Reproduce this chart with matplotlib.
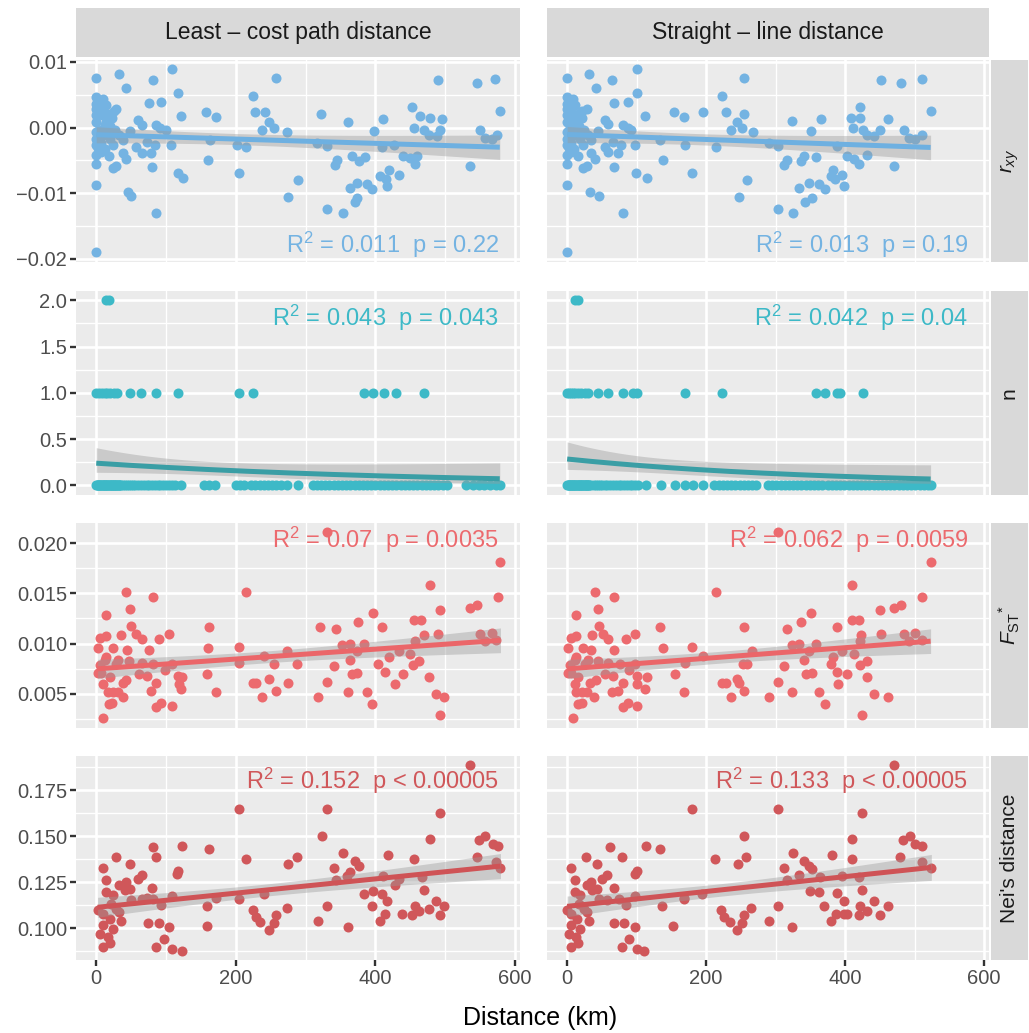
import numpy as np
import matplotlib
matplotlib.use('Agg')
import matplotlib.pyplot as plt

plt.rcParams['font.family'] = ['Liberation Sans', 'DejaVu Sans']
plt.rcParams['mathtext.fontset'] = 'custom'
plt.rcParams['mathtext.rm'] = 'Liberation Sans'
plt.rcParams['mathtext.it'] = 'Liberation Sans:italic'
plt.rcParams['mathtext.bf'] = 'Liberation Sans:bold'

# ---- data: (distance km, value) ----
rxy_lc = np.array([
    (0, .0076), (32, .0081), (43, .0060), (81, .0073), (108, .0090), (117, .0052), (258, .0076), (490, .0072),
    (546, .0068), (571, .0074), (578, .0025), (0, .0046), (14, .0035), (29, .0028), (75, .0037), (93, .0039),
    (122, .0018), (157, .0023), (172, .0016), (225, .0048), (228, .0023), (242, .0023), (247, .0008), (254, -.0001),
    (237, -.0004), (273, -.0007), (322, .0021), (361, .0009), (411, .0013), (398, -.0006), (453, .0031), (464, .0017),
    (478, .0014), (495, .0013), (455, .0000), (469, -.0003), (476, -.0011), (488, -.0013), (493, -.0003), (550, -.0003),
    (557, -.0016), (574, -.0012), (567, -.0017), (316, -.0024), (330, -.0028), (409, -.0030), (427, -.0027), (439, -.0043),
    (450, -.0046), (457, -.0055), (460, -.0043), (536, -.0058), (345, -.0050), (342, -.0057), (366, -.0043), (376, -.0051),
    (385, -.0045), (419, -.0064), (406, -.0074), (415, -.0078), (433, -.0072), (364, -.0092), (373, -.0084), (388, -.0086),
    (395, -.0093), (416, -.0089), (373, -.0107), (370, -.0114), (330, -.0124), (353, -.0130), (289, -.0080), (274, -.0106),
    (205, -.0069), (202, -.0027), (215, -.0029), (160, -.0049), (163, -.0019), (117, -.0069), (124, -.0077), (107, -.0026),
    (100, -.0004), (86, .0004), (91, .0000), (80, -.0060), (86, -.0131), (45, -.0098), (50, -.0104), (0, -.0088),
    (0, -.0190), (0, -.0056), (24, -.0062), (29, -.0058), (18, -.0044), (38, -.0039), (43, -.0048), (65, -.0039),
    (79, -.0039), (57, -.0029), (84, -.0026), (72, -.0022), (60, .0011), (65, .0004), (49, -.0006), (38, -.0019),
    (24, -.0026), (0, -.0042), (7, -.0037), (0, -.0027), (0, -.0017), (0, -.0007), (0, .0009), (0, .0019),
    (0, .0029), (0, .0036), (10, .0024), (22, .0014), (14, .0009), (10, -.0012), (19, -.0017), (33, -.0012),
    (7, -.0024), (3, .0041), (5, .0031), (8, .0019), (12, .0004), (4, -.0004), (6, -.0015), (15, -.0009),
    (20, .0002), (27, -.0004), (2, -.0031), (12, -.0033), (17, .0021), (25, .0026), (9, .0043)])

rxy_sl = np.array([
    (0, .0076), (32, .0081), (41, .0060), (64, .0073), (101, .0090), (101, .0052), (255, .0076), (451, .0072),
    (480, .0068), (511, .0074), (523, .0025), (0, .0046), (11, .0035), (28, .0028), (68, .0037), (87, .0039),
    (112, .0018), (154, .0023), (168, .0016), (223, .0048), (228, .0023), (195, .0023), (255, .0021), (244, .0008),
    (251, -.0001), (236, -.0004), (267, -.0007), (323, .0010), (351, -.0005), (365, .0013), (408, .0014), (422, .0031),
    (422, .0014), (462, .0013), (411, .0000), (425, -.0003), (432, -.0011), (442, -.0013), (450, -.0003), (485, -.0003),
    (492, -.0016), (510, -.0012), (501, -.0017), (291, -.0024), (304, -.0028), (389, -.0028), (403, -.0043), (432, -.0042),
    (413, -.0048), (420, -.0055), (470, -.0058), (317, -.0050), (312, -.0057), (341, -.0043), (336, -.0051), (358, -.0045),
    (382, -.0064), (379, -.0074), (386, -.0078), (395, -.0072), (334, -.0092), (348, -.0084), (363, -.0086), (371, -.0093),
    (399, -.0089), (353, -.0107), (342, -.0114), (303, -.0124), (325, -.0130), (259, -.0080), (247, -.0106), (180, -.0069),
    (169, -.0026), (214, -.0029), (138, -.0049), (134, -.0019), (99, -.0069), (115, -.0077), (98, -.0026), (92, -.0004),
    (80, .0004), (87, .0000), (68, -.0060), (80, -.0131), (33, -.0098), (46, -.0104), (0, -.0088), (0, -.0190),
    (0, -.0056), (23, -.0062), (28, -.0058), (16, -.0044), (35, -.0039), (40, -.0048), (59, -.0038), (73, -.0039),
    (54, -.0029), (78, -.0026), (66, -.0022), (54, .0011), (59, .0005), (44, -.0006), (35, -.0019), (23, -.0026),
    (0, -.0042), (6, -.0037), (0, -.0027), (0, -.0017), (0, -.0007), (0, .0009), (0, .0019), (0, .0029),
    (0, .0036), (6, .0024), (21, .0014), (11, .0009), (9, -.0012), (18, -.0017), (30, -.0012), (5, -.0024),
    (3, .0041), (4, .0031), (7, .0019), (10, .0004), (3, -.0004), (5, -.0015), (13, -.0009), (17, .0002),
    (24, -.0004), (2, -.0031), (10, -.0033), (15, .0021), (22, .0026), (8, .0043)])

n_lc_two = [14, 18]
n_lc_one = [0, 4, 8, 12, 16, 20, 25, 30, 49, 64, 86, 117, 204, 225, 383, 396, 412, 429, 469]
n_lc_zero = [0, 1, 2, 3, 4, 5, 6, 7, 8, 9, 10, 11, 12, 13, 14, 15, 16, 17, 18, 19, 20, 21, 22, 23, 24, 25,
             26, 27, 28, 29, 30, 31, 32, 33, 34, 35, 38, 41, 44, 47, 50, 53, 56, 60, 64,
             68, 72, 76, 80, 84, 88, 92, 96, 100, 104, 108, 113, 122, 155, 162, 170, 200, 206, 212, 222, 228,
             234, 240, 246, 252, 258, 264, 273, 289, 310, 316, 322, 328, 334, 340, 346, 352, 358, 364, 370,
             376, 382, 388, 394, 400, 406, 412, 418, 424, 430, 436, 442, 448, 454, 460, 466, 472, 478, 484,
             490, 496, 502, 530, 540, 548, 556, 564, 572, 578]

n_sl_two = [11, 15]
n_sl_one = [0, 3, 6, 9, 12, 16, 20, 25, 30, 44, 59, 81, 95, 100, 169, 223, 358, 371, 389, 392, 425]
n_sl_zero = [0, 1, 2, 3, 4, 5, 6, 7, 8, 9, 10, 11, 12, 13, 14, 15, 16, 17, 18, 19, 20, 21, 22, 23, 24, 25,
             26, 27, 28, 29, 30, 31, 32, 35, 38, 41, 44, 47, 50, 54, 58, 62, 66,
             70, 74, 78, 82, 86, 90, 94, 98, 102, 114, 135, 155, 169, 181, 195, 212, 218, 224, 230, 236, 242,
             248, 254, 260, 266, 272, 289, 295, 301, 307, 313, 319, 325, 331, 337, 343, 349, 355, 361, 367,
             375, 381, 387, 393, 399, 405, 411, 417, 423, 429, 435, 441, 447, 453, 459, 465, 471, 477, 483,
             489, 495, 501, 507, 513, 519, 523]

fst_lc = np.array([
    (330, .0211), (579, .0181), (478, .0158), (575, .0146), (493, .0133), (535, .0135), (546, .0138), (43, .0151),
    (81, .0146), (49, .0134), (14, .0128), (214, .0151), (162, .0117), (321, .0117), (344, .0115), (375, .0121),
    (397, .0130), (409, .0117), (455, .0123), (465, .0123), (469, .0109), (490, .0110), (550, .0110), (567, .0111),
    (557, .0103), (572, .0104), (50, .0118), (57, .0110), (65, .0105), (36, .0109), (90, .0105), (104, .0110),
    (5, .0106), (14, .0108), (2, .0096), (24, .0096), (44, .0094), (75, .0094), (160, .0096), (205, .0097),
    (273, .0093), (241, .0088), (352, .0099), (364, .0100), (384, .0100), (373, .0093), (433, .0093), (457, .0103),
    (450, .0090), (419, .0087), (12, .0084), (31, .0084), (47, .0083), (65, .0081), (82, .0080), (108, .0080),
    (205, .0081), (254, .0080), (288, .0080), (364, .0084), (404, .0080), (462, .0083), (454, .0079), (7, .0071),
    (19, .0067), (61, .0070), (72, .0068), (98, .0074), (117, .0068), (123, .0067), (158, .0070), (341, .0078),
    (366, .0070), (374, .0071), (413, .0072), (439, .0070), (476, .0067), (9, .0060), (38, .0061), (43, .0064),
    (86, .0061), (119, .0060), (122, .0055), (17, .0052), (24, .0052), (31, .0052), (79, .0053), (39, .0047),
    (224, .0061), (229, .0061), (247, .0065), (258, .0053), (274, .0061), (237, .0047), (172, .0052), (331, .0062),
    (317, .0047), (361, .0052), (388, .0052), (395, .0040), (428, .0060), (487, .0050), (498, .0047), (493, .0029),
    (18, .0040), (23, .0041), (86, .0037), (93, .0041), (108, .0038), (10, .0026), (2, .0071), (5, .0079),
    (14, .0087), (28, .0080)])

fst_sl = np.array([
    (304, .0211), (523, .0181), (410, .0158), (510, .0146), (450, .0133), (470, .0135), (480, .0138), (40, .0151),
    (68, .0146), (44, .0134), (13, .0128), (214, .0151), (134, .0117), (255, .0117), (317, .0115), (336, .0121),
    (351, .0130), (389, .0117), (410, .0123), (420, .0123), (423, .0109), (451, .0110), (485, .0110), (501, .0111),
    (492, .0103), (511, .0104), (46, .0118), (52, .0110), (59, .0105), (36, .0109), (84, .0105), (98, .0110),
    (6, .0106), (13, .0108), (1, .0096), (23, .0096), (35, .0094), (68, .0094), (138, .0096), (180, .0097),
    (266, .0093), (195, .0088), (324, .0099), (334, .0100), (358, .0100), (348, .0093), (396, .0093), (421, .0103),
    (413, .0090), (382, .0087), (11, .0084), (30, .0084), (44, .0083), (59, .0081), (76, .0080), (98, .0080),
    (169, .0081), (253, .0080), (259, .0080), (341, .0084), (380, .0080), (432, .0083), (421, .0079), (6, .0071),
    (16, .0067), (54, .0070), (66, .0068), (89, .0074), (101, .0068), (115, .0067), (155, .0070), (312, .0078),
    (343, .0070), (353, .0071), (388, .0072), (403, .0070), (432, .0067), (11, .0060), (33, .0061), (41, .0064),
    (80, .0061), (101, .0060), (112, .0055), (13, .0052), (21, .0052), (28, .0052), (64, .0052), (73, .0053),
    (38, .0047), (223, .0061), (228, .0061), (244, .0065), (255, .0053), (247, .0061), (236, .0047), (168, .0052),
    (304, .0062), (291, .0047), (323, .0052), (363, .0052), (371, .0040), (390, .0060), (442, .0050), (462, .0047),
    (424, .0029), (16, .0040), (21, .0041), (80, .0037), (87, .0041), (101, .0038), (9, .0026), (1, .0071),
    (4, .0079), (13, .0087), (25, .0080)])

nei_lc = np.array([
    (536, .189), (205, .1648), (330, .1648), (493, .1628), (323, .150), (478, .1487), (548, .1478), (557, .150),
    (569, .146), (576, .1447), (81, .1441), (123, .1447), (162, .1428), (29, .1387), (86, .1387), (214, .1378),
    (288, .1387), (274, .1347), (353, .1408), (418, .1399), (455, .1378), (546, .1387), (572, .136), (579, .1327),
    (370, .1363), (376, .1336), (341, .1327), (364, .1305), (359, .1283), (10, .1329), (49, .1347), (117, .1309),
    (116, .1296), (65, .1287), (60, .1265), (14, .126), (43, .1251), (33, .1232), (49, .1214), (41, .1205),
    (14, .1196), (24, .1178), (80, .1218), (411, .1281), (433, .1269), (428, .1236), (466, .1278), (469, .1205),
    (344, .1263), (383, .1187), (397, .12), (409, .1187), (416, .1145), (240, .1183), (172, .1165), (205, .1156),
    (109, .1172), (72, .1165), (82, .116), (65, .1156), (93, .1123), (50, .1151), (21, .1133), (2, .1096),
    (10, .1078), (29, .1105), (33, .1087), (36, .1036), (19, .1051), (24, .0996), (10, .1015), (6, .0967),
    (17, .0951), (19, .092), (10, .0897), (74, .1027), (90, .1027), (104, .1007), (97, .0938), (86, .0897),
    (108, .0884), (123, .0875), (158, .1009), (159, .1118), (225, .1096), (229, .106), (235, .1033), (248, .0987),
    (254, .1029), (258, .1069), (273, .1109), (317, .1036), (331, .1118), (361, .1005), (395, .1118), (407, .1036),
    (414, .1078), (438, .1078), (452, .1073), (457, .112), (462, .1091), (476, .1105), (487, .1145), (498, .1118),
    (493, .1069)])

nei_sl = np.array([
    (470, .189), (179, .1648), (303, .1648), (424, .1628), (254, .150), (410, .1487), (483, .1478), (493, .150),
    (501, .146), (511, .1447), (62, .1441), (114, .1447), (133, .1428), (27, .1387), (79, .1387), (213, .1378),
    (258, .1387), (246, .1347), (325, .1408), (381, .1399), (410, .1378), (479, .1387), (511, .136), (524, .1327),
    (341, .1363), (348, .1336), (312, .1327), (353, .132), (333, .1287), (6, .1329), (43, .1347), (100, .1309),
    (97, .1296), (58, .1287), (50, .1265), (12, .126), (34, .1251), (29, .1232), (43, .1214), (36, .1205),
    (12, .1196), (19, .1178), (67, .1218), (396, .1281), (420, .1278), (424, .1209), (364, .1278), (388, .1191),
    (350, .12), (362, .1196), (398, .1145), (317, .1263), (194, .1183), (168, .1156), (97, .1172), (58, .1151),
    (74, .116), (85, .1123), (46, .116), (17, .1133), (0, .1096), (5, .1078), (24, .1105), (29, .1087),
    (31, .1036), (14, .1051), (19, .0996), (5, .1015), (2, .0967), (13, .0951), (15, .092), (6, .0897),
    (67, .1027), (82, .1027), (97, .1007), (89, .0938), (79, .0897), (100, .0884), (111, .0875), (137, .1118),
    (153, .1009), (222, .1096), (225, .106), (234, .1033), (244, .0987), (252, .1029), (254, .1069), (265, .1109),
    (290, .1036), (303, .1118), (323, .1005), (370, .1118), (379, .1036), (387, .1078), (403, .1078), (420, .1073),
    (421, .112), (432, .1091), (441, .1145), (450, .1073), (461, .1118), (398, .1078), (168, .1165)])

col_titles = ['Least \u2013 cost path distance', 'Straight \u2013 line distance']
row_titles = [r'$r_{xy}$', 'n', r'$F_{\mathrm{ST}}{}^{*}$', "Nei's distance"]
stats = [[r'R$^{2}$ = 0.011  p = 0.22', r'R$^{2}$ = 0.013  p = 0.19'],
         [r'R$^{2}$ = 0.043  p = 0.043', r'R$^{2}$ = 0.042  p = 0.04'],
         [r'R$^{2}$ = 0.07  p = 0.0035', r'R$^{2}$ = 0.062  p = 0.0059'],
         [r'R$^{2}$ = 0.152  p < 0.00005', r'R$^{2}$ = 0.133  p < 0.00005']]
y_ticks = [[0.01, 0.0, -0.01, -0.02], [0.0, 0.5, 1.0, 1.5, 2.0],
           [0.005, 0.010, 0.015, 0.020], [0.100, 0.125, 0.150, 0.175]]
y_ticklabels = [['0.01', '0.00', '\u22120.01', '\u22120.02'], ['0.0', '0.5', '1.0', '1.5', '2.0'],
                ['0.005', '0.010', '0.015', '0.020'], ['0.100', '0.125', '0.150', '0.175']]
y_minor = [[0.005, -0.005, -0.015], [0.25, 0.75, 1.25, 1.75],
           [0.0025, 0.0075, 0.0125, 0.0175], [0.0875, 0.1125, 0.1375, 0.1625, 0.1875]]
x_ticks = [0, 200, 400, 600]
x_minor = [100, 300, 500]

pt_colors = ['#74B3E2', '#3DB9C7', '#EC6A6E', '#D0575A']
line_colors = ['#6EB0E1', '#3A9EA5', '#EB6669', '#CF5356']
ylims = [(-0.0205, 0.0103), (-0.105, 2.1), (0.0016, 0.0220), (0.0826, 0.1937)]
xlim = (-29, 607)


def lm_fit(x, y, grid):
    b, a = np.polyfit(x, y, 1)
    fit = a + b * grid
    res = y - (a + b * x)
    n = len(x)
    s = np.sqrt(np.sum(res ** 2) / (n - 2))
    se = s * np.sqrt(1 / n + (grid - x.mean()) ** 2 / np.sum((x - x.mean()) ** 2))
    return fit, fit - 1.97 * se, fit + 1.97 * se


def pois_fit(x, y, grid):
    X = np.column_stack([np.ones_like(x), x])
    beta = np.array([np.log(y.mean()), 0.0])
    for _ in range(60):
        mu = np.exp(X @ beta)
        z = X @ beta + (y - mu) / mu
        XtW = X.T * mu
        beta = np.linalg.solve(XtW @ X, XtW @ z)
    mu = np.exp(X @ beta)
    cov = np.linalg.inv((X.T * mu) @ X)
    G = np.column_stack([np.ones_like(grid), grid])
    eta = G @ beta
    se = np.sqrt(np.einsum('ij,jk,ik->i', G, cov, G))
    return np.exp(eta), np.exp(eta - 1.96 * se), np.exp(eta + 1.96 * se)


def n_points(two, one, zero):
    x = np.array(two + one + zero, dtype=float)
    y = np.array([2] * len(two) + [1] * len(one) + [0] * len(zero), dtype=float)
    return x, y


panels = [[(rxy_lc[:, 0], rxy_lc[:, 1]), (rxy_sl[:, 0], rxy_sl[:, 1])],
          [n_points(n_lc_two, n_lc_one, n_lc_zero), n_points(n_sl_two, n_sl_one, n_sl_zero)],
          [(fst_lc[:, 0], fst_lc[:, 1]), (fst_sl[:, 0], fst_sl[:, 1])],
          [(nei_lc[:, 0], nei_lc[:, 1]), (nei_sl[:, 0], nei_sl[:, 1])]]

W, H = 1029, 1033
fig = plt.figure(figsize=(W / 100, H / 100), dpi=100)


def px_rect(x0, y0, x1, y1):
    return [x0 / W, 1 - y1 / H, (x1 - x0) / W, (y1 - y0) / H]


cols = [(76, 520), (547, 989)]
rows = [(60, 262), (291, 495), (523, 728), (756, 960)]

for r in range(4):
    for c in range(2):
        ax = fig.add_axes(px_rect(cols[c][0], rows[r][0], cols[c][1], rows[r][1]))
        ax.set_facecolor('#EBEBEB')
        for s in ax.spines.values():
            s.set_visible(False)
        ax.set_xlim(xlim)
        ax.set_ylim(ylims[r])
        ax.set_xticks(x_ticks)
        ax.set_xticks(x_minor, minor=True)
        ax.set_yticks(y_ticks[r])
        ax.set_yticks(y_minor[r], minor=True)
        ax.set_yticklabels(y_ticklabels[r])
        ax.set_axisbelow(True)
        ax.grid(which='major', color='white', lw=1.9)
        ax.grid(which='minor', color='white', lw=0.95)
        ax.tick_params(which='minor', length=0)
        ax.tick_params(which='major', length=4.5, width=1.7, color='#333333',
                       labelsize=14.5, labelcolor='#4D4D4D', pad=2)
        if c == 1:
            ax.tick_params(axis='y', length=0, labelleft=False)
        if r < 3:
            ax.tick_params(axis='x', length=0, labelbottom=False)

        x, y = panels[r][c]
        ax.scatter(x, y, s=52, color=pt_colors[r], linewidths=0, zorder=2)
        grid = np.linspace(x.min(), x.max(), 200)
        if r == 1:
            fit, lo, hi = pois_fit(x, y, grid)
        else:
            fit, lo, hi = lm_fit(x, y, grid)
        ax.fill_between(grid, lo, hi, color='#999999', alpha=0.4, lw=0, zorder=3)
        ax.plot(grid, fit, color=line_colors[r], lw=3.6, zorder=4, solid_capstyle='butt')

        ty = [0.085, 0.87, 0.92, 0.877][r]
        ax.text(0.952, ty, stats[r][c], transform=ax.transAxes, ha='right', va='center',
                fontsize=17, color=pt_colors[r], zorder=5)

# column strips
for c in range(2):
    sa = fig.add_axes(px_rect(cols[c][0], 8, cols[c][1], 57))
    sa.set_facecolor('#D9D9D9')
    sa.set_xticks([]); sa.set_yticks([])
    for s in sa.spines.values():
        s.set_visible(False)
    sa.text(0.5, 0.5, col_titles[c], ha='center', va='center', fontsize=16.5, color='#1A1A1A',
            transform=sa.transAxes)

# row strips
for r in range(4):
    sa = fig.add_axes(px_rect(991, rows[r][0], 1028, rows[r][1]))
    sa.set_facecolor('#D9D9D9')
    sa.set_xticks([]); sa.set_yticks([])
    for s in sa.spines.values():
        s.set_visible(False)
    sa.text(0.5, 0.5, row_titles[r], ha='center', va='center', rotation=90, fontsize=15,
            color='#1A1A1A', transform=sa.transAxes)

fig.text(540 / W, 1 - 1018 / H, 'Distance (km)', ha='center', va='center', fontsize=18, color='black')

fig.savefig('out.png', dpi=100)
